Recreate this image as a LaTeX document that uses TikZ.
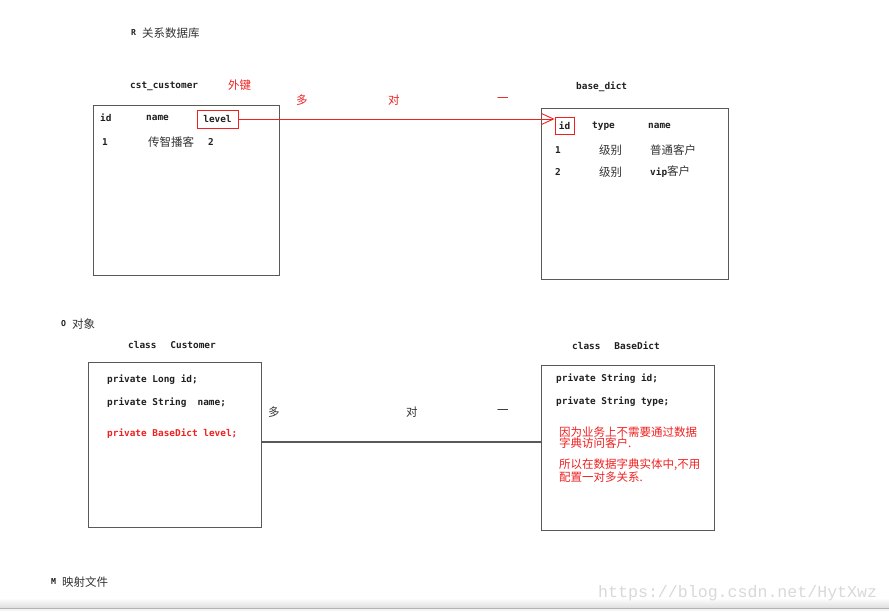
\documentclass[tikz,border=0pt]{standalone}
\usepackage{fontspec}
\setmainfont{Liberation Sans}
\newfontfamily\cjk{Noto Sans CJK SC}
\newfontfamily\mono{DejaVu Sans Mono}
\newfontfamily\wmfont{Liberation Mono}
\usetikzlibrary{arrows.meta}
\definecolor{zhgray}{HTML}{333333}
\definecolor{keyred}{HTML}{F02020}
\begin{document}
\begin{tikzpicture}[x=1pt,y=-1pt,
  code/.style={font=\mono\bfseries\fontsize{9.4}{11}\selectfont, inner sep=0pt, anchor=west, text=black!88},
  small/.style={font=\mono\bfseries\fontsize{8.2}{9}\selectfont, inner sep=0pt, anchor=west, text=black!88},
  zh/.style={font=\cjk\fontsize{11.5}{14}\selectfont, inner sep=0pt, anchor=west, text=zhgray},
  zhred/.style={font=\cjk\fontsize{11.5}{13}\selectfont, inner sep=0pt, anchor=west, text=keyred},
  tbox/.style={draw=black!65, line width=1.1pt, anchor=north west, inner sep=0pt},
  keybox/.style={draw=keyred, line width=0.9pt, inner sep=0pt, font=\mono\bfseries\fontsize{9.4}{11}\selectfont, text=black!88},
]
\useasboundingbox (0,0) rectangle (889,611);
\fill[white] (0,0) rectangle (889,611);

% section labels
\node[small] (rl) at (131,33) {R};
\node[zh] (rt) at (142,33) {关系数据库};
\node[small] (ol) at (61,324) {O};
\node[zh] (ot) at (72,324) {对象};
\node[small] (ml) at (51,582) {M};
\node[zh] (mt) at (62,582) {映射文件};

% ---------- relational tables ----------
\node[code] (cstname) at (130,86) {cst\_customer};
\node[zhred] (fk) at (228,85) {外键};
\node[tbox, minimum width=186pt, minimum height=170pt] (tcust) at (93,105) {};
\node[code] (c1) at (100,118) {id};
\node[code] (c2) at (146,118) {name};
\node[keybox, minimum width=41pt, minimum height=18pt] (lvl) at (217.5,119) {level};
\node[code] (r1) at (102,142) {1};
\node[zh] (r2) at (148,142) {传智播客};
\node[code] (r3) at (208,142) {2};

\node[code] (bdname) at (576,87) {base\_dict};
\node[tbox, minimum width=187pt, minimum height=171pt] (tdict) at (541,108) {};
\node[keybox, minimum width=19pt, minimum height=17pt] (idk) at (564.5,125.5) {id};
\node[code] (d2) at (592,126) {type};
\node[code] (d3) at (648,126) {name};
\node[code] (e1) at (555,150) {1};
\node[zh] (e2) at (599,150) {级别};
\node[zh] (e3) at (650,150) {普通客户};
\node[code] (f1) at (555,172) {2};
\node[zh] (f2) at (599,172) {级别};
\node[inner sep=0pt, anchor=west] (f3) at (650,172) {{\mono\bfseries\fontsize{9.4}{11}\selectfont\color{black!88}vip}{\cjk\fontsize{11.5}{14}\selectfont\color{zhgray}客户}};

\node[zhred] (m1) at (296,100) {多};
\node[zhred] (m2) at (388,100) {对};
\node[zhred] (m3) at (497,100) {一};

\draw[keyred, line width=0.9pt, -{Straight Barb[length=12pt,width=11pt,line width=0.9pt]}] (lvl.east) -- (idk.west |- lvl.east);

% ---------- objects ----------
\node[code] (cc) at (128,345) {class\hspace{14pt}Customer};
\node[tbox, minimum width=173pt, minimum height=165pt] (ocust) at (88,362) {};
\node[code] (p1) at (107,380) {private Long id;};
\node[code] (p2) at (107,403) {private String\hspace{5.6pt} name;};
\node[code, text=keyred] (p3) at (107,434) {private BaseDict level;};

\node[code] (cb) at (572,346) {class\hspace{14pt}BaseDict};
\node[tbox, minimum width=173pt, minimum height=165pt] (odict) at (541,365) {};
\node[code] (q1) at (556,379) {private String id;};
\node[code] (q2) at (556,402) {private String type;};
\node[zhred, align=left, font=\cjk\fontsize{11.5}{11.5}\selectfont] (n1) at (559,437.5) {因为业务上不需要通过数据\\字典访问客户.};
\node[zhred, align=left, font=\cjk\fontsize{11.5}{11.5}\selectfont] (n2) at (559,471) {所以在数据字典实体中,不用\\配置一对多关系.};

\node[zh] (k1) at (268,412) {多};
\node[zh] (k2) at (406,412) {对};
\node[zh] (k3) at (497,412) {一};

\draw[black!65, line width=1.1pt] (ocust.east |- 0,442) -- (odict.west |- 0,442);

% ---------- bottom bar and watermark ----------
\shade[top color=white, bottom color=gray!25] (0,598) rectangle (889,607.5);
\draw[gray!60, line width=1pt] (0,608.2) -- (889,608.2);
\fill[gray!8] (0,608.7) rectangle (889,611);
\node[inner sep=0pt, anchor=base west, font=\wmfont\fontsize{16.6}{18}\selectfont, text=gray!30] (wm) at (598,597) {https://blog.csdn.net/HytXwz};
\end{tikzpicture}
\end{document}
